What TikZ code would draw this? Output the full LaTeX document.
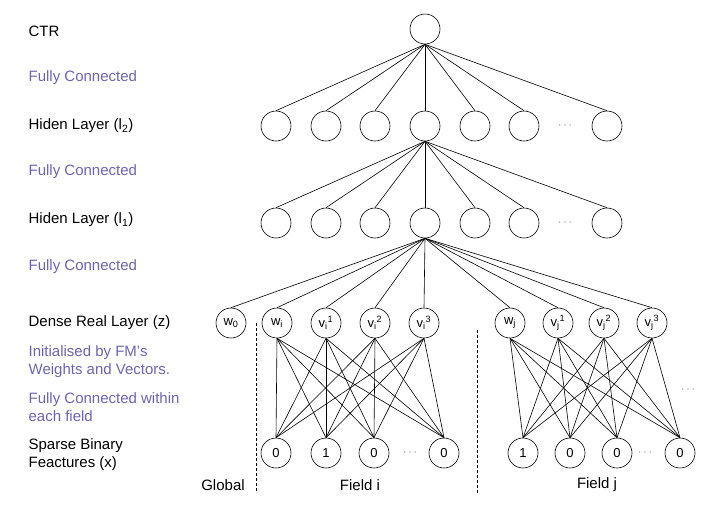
\documentclass[tikz,border=0pt]{standalone}
\usepackage{fontspec}
\setmainfont{Liberation Sans}
\definecolor{fcblue}{RGB}{108,100,178}

\begin{document}
\begin{tikzpicture}[x=1pt, y=-1pt, line width=0.6pt]
\tikzset{neurone/.style={draw, circle, minimum size=30pt, inner sep=0pt, font=\fontsize{13}{15}\selectfont},
  couche/.style={anchor=west, align=left, font=\fontsize{15}{18}\selectfont},
  connexe/.style={couche, text=fcblue},
  points/.style={font=\fontsize{13}{15}\selectfont, text=gray}}
\useasboundingbox (0,0) rectangle (720,517);
% labels on the left
\node[couche] (LC) at (25,31) {CTR};
\node[connexe] (F1) at (25,78) {Fully Connected};
\node[couche] (LH2) at (25,126) {Hiden Layer (l\textsubscript{2})};
\node[connexe] (F2) at (25,172) {Fully Connected};
\node[couche] (LH1) at (25,220) {Hiden Layer (l\textsubscript{1})};
\node[connexe] (F3) at (25,267) {Fully Connected};
\node[couche] (LZ) at (25,323) {Dense Real Layer (z)};
\node[connexe] (F4) at (25,362) {Initialised by FM's\\Weights and Vectors.};
\node[connexe] (F5) at (25,407) {Fully Connected within\\each field};
\node[couche] (LX) at (25,455) {Sparse Binary\\Feactures (x)};
% output
\node[neurone] (C) at (425,29) {};
% hidden layer l2
\node[neurone] (A1) at (276,126) {};
\node[neurone] (A2) at (326,126) {};
\node[neurone] (A3) at (375,126) {};
\node[neurone] (A4) at (425,126) {};
\node[neurone] (A5) at (475,126) {};
\node[neurone] (A6) at (524,126) {};
\node[points] (PA) at (565,126) {$\cdots$};
\node[neurone] (A7) at (607,126) {};
% hidden layer l1
\node[neurone] (B1) at (276,223) {};
\node[neurone] (B2) at (326,223) {};
\node[neurone] (B3) at (375,223) {};
\node[neurone] (B4) at (425,223) {};
\node[neurone] (B5) at (475,223) {};
\node[neurone] (B6) at (524,223) {};
\node[points] (PB) at (565,223) {$\cdots$};
\node[neurone] (B7) at (607,223) {};
% dense real layer
\node[neurone] (Z0) at (231,323) {w\textsubscript{0}};
\node[neurone] (Zi0) at (277,323) {w\textsubscript{i}};
\node[neurone] (Zi1) at (326,323) {v\textsubscript{i}\textsuperscript{1}};
\node[neurone] (Zi2) at (375,323) {v\textsubscript{i}\textsuperscript{2}};
\node[neurone] (Zi3) at (424,323) {v\textsubscript{i}\textsuperscript{3}};
\node[neurone] (Zj0) at (510,323) {w\textsubscript{j}};
\node[neurone] (Zj1) at (558,323) {v\textsubscript{j}\textsuperscript{1}};
\node[neurone] (Zj2) at (604,323) {v\textsubscript{j}\textsuperscript{2}};
\node[neurone] (Zj3) at (652,323) {v\textsubscript{j}\textsuperscript{3}};
\node[points] (PZ) at (688,390) {$\cdots$};
% sparse binary features
\node[neurone] (Xi1) at (276,453) {0};
\node[neurone] (Xi2) at (326,453) {1};
\node[neurone] (Xi3) at (374,453) {0};
\node[points] (PXi) at (410,453) {$\cdots$};
\node[neurone] (Xi4) at (444,453) {0};
\node[neurone] (Xj1) at (523,453) {1};
\node[neurone] (Xj2) at (570,453) {0};
\node[neurone] (Xj3) at (617,453) {0};
\node[points] (PXj) at (645,453) {$\cdots$};
\node[neurone] (Xj4) at (680,453) {0};
% fields
\node[couche, anchor=center] (G) at (223,485) {Global};
\node[couche, anchor=center] (FI) at (360,485) {Field i};
\node[couche, anchor=center] (FJ) at (597,485) {Field j};
\coordinate (D1a) at (256,323);
\coordinate (D1b) at (256,493);
\coordinate (D2a) at (477,330);
\coordinate (D2b) at (477,493);
\draw[densely dashed] (D1a) -- (D1b);
\draw[densely dashed] (D2a) -- (D2b);
% connections
\foreach \n in {A1,A2,A3,A4,A5,A6,A7} \draw (C.south) -- (\n.north);
\foreach \n in {B1,B2,B3,B4,B5,B6,B7} \draw (A4.south) -- (\n.north);
\foreach \n in {Z0,Zi0,Zi1,Zi2,Zi3,Zj0,Zj1,Zj2,Zj3} \draw (B4.south) -- (\n.north);
\foreach \h in {0,1,2,3} {
  \foreach \b in {1,2,3,4} {
    \draw (Zi\h.south) -- (Xi\b.north);
    \draw (Zj\h.south) -- (Xj\b.north);
  }
}
\end{tikzpicture}
\end{document}
